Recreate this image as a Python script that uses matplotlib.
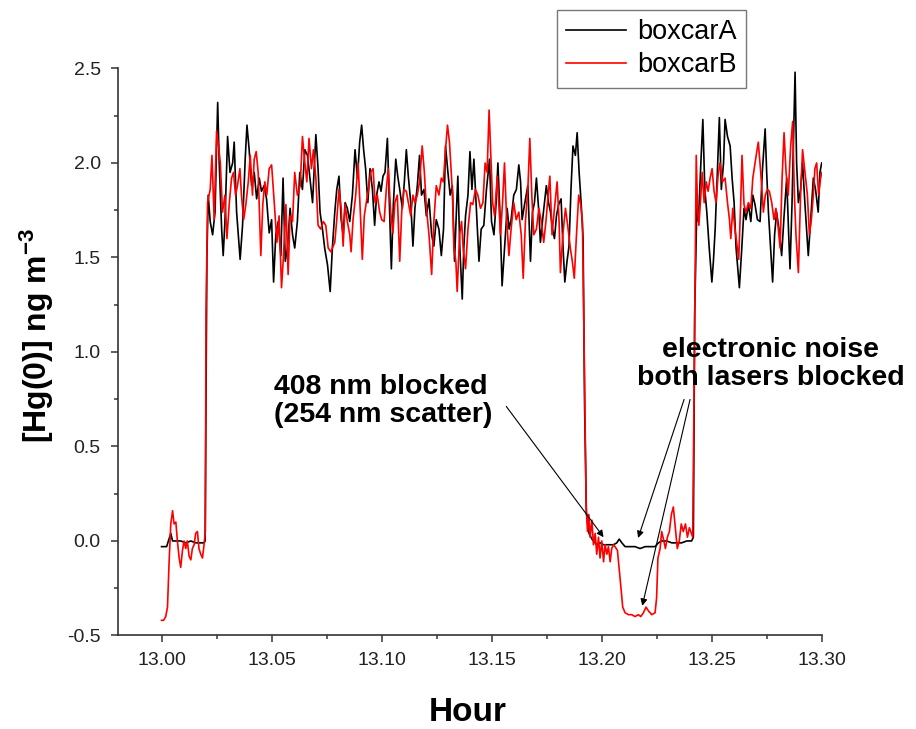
import matplotlib
matplotlib.use('Agg')
import matplotlib.pyplot as plt
from matplotlib.ticker import MultipleLocator, FormatStrFormatter

plt.rcParams['font.family'] = ['Liberation Sans', 'DejaVu Sans']

# boxcarA (black) - hour / [Hg(0)]
hour_a = [13.0000, 13.0023, 13.0034, 13.0042, 13.0050, 13.0065, 13.0087, 13.0110, 13.0133, 13.0155,
          13.0178, 13.0193, 13.0198, 13.0206,
          13.0212, 13.0221, 13.0232, 13.0243, 13.0255, 13.0262, 13.0273, 13.0280, 13.0288, 13.0300,
          13.0311, 13.0323, 13.0330, 13.0341, 13.0350, 13.0357, 13.0368, 13.0380, 13.0388, 13.0398,
          13.0409, 13.0421, 13.0432, 13.0444, 13.0454, 13.0466, 13.0477, 13.0489, 13.0500, 13.0509,
          13.0519, 13.0530, 13.0542, 13.0552, 13.0562, 13.0572, 13.0584, 13.0595, 13.0605, 13.0617,
          13.0628, 13.0640, 13.0651, 13.0663, 13.0673, 13.0686, 13.0701, 13.0711, 13.0720, 13.0731,
          13.0741, 13.0754, 13.0766,
          13.0776, 13.0787, 13.0796, 13.0806, 13.0816, 13.0825, 13.0834, 13.0844, 13.0855, 13.0867,
          13.0879, 13.0890, 13.0900, 13.0909, 13.0918, 13.0927, 13.0937, 13.0947, 13.0958, 13.0968,
          13.0977, 13.0988, 13.0997, 13.1006, 13.1015, 13.1026, 13.1033, 13.1044, 13.1053, 13.1064,
          13.1073, 13.1082, 13.1094, 13.1103, 13.1112, 13.1121, 13.1132, 13.1142, 13.1151, 13.1162,
          13.1172, 13.1181, 13.1192, 13.1203, 13.1215, 13.1227, 13.1237, 13.1248, 13.1260, 13.1271,
          13.1281, 13.1290, 13.1301, 13.1311, 13.1321,
          13.1331, 13.1340, 13.1346, 13.1355, 13.1366, 13.1373, 13.1381, 13.1392, 13.1401, 13.1410,
          13.1419, 13.1429, 13.1442, 13.1452, 13.1464, 13.1476, 13.1490, 13.1499, 13.1510, 13.1520,
          13.1528, 13.1537, 13.1547, 13.1558, 13.1570, 13.1579, 13.1588, 13.1600, 13.1612, 13.1623,
          13.1631, 13.1638, 13.1649, 13.1664, 13.1676, 13.1685, 13.1694, 13.1703, 13.1714, 13.1721,
          13.1733, 13.1748, 13.1758, 13.1767, 13.1776, 13.1785, 13.1794, 13.1804, 13.1815, 13.1824,
          13.1832, 13.1842, 13.1851, 13.1860, 13.1869, 13.1880, 13.1888, 13.1897, 13.1906,
          13.1915, 13.1922, 13.1930, 13.1942, 13.1955,
          13.1962, 13.1977, 13.1992, 13.2008, 13.2023, 13.2038, 13.2053, 13.2068, 13.2079, 13.2091,
          13.2106, 13.2129, 13.2151, 13.2174, 13.2197, 13.2219, 13.2242, 13.2257, 13.2272, 13.2295,
          13.2318, 13.2340, 13.2363, 13.2386, 13.2408,
          13.2416, 13.2422,
          13.2432, 13.2439, 13.2450, 13.2459, 13.2468, 13.2477, 13.2488, 13.2500, 13.2507, 13.2515,
          13.2525, 13.2534, 13.2543, 13.2553, 13.2560, 13.2571, 13.2583, 13.2592, 13.2601, 13.2610,
          13.2618, 13.2625, 13.2636, 13.2646, 13.2655, 13.2666, 13.2677, 13.2686, 13.2696, 13.2707,
          13.2719, 13.2729, 13.2742, 13.2749, 13.2757, 13.2767, 13.2776, 13.2785, 13.2794, 13.2805,
          13.2817, 13.2828, 13.2840, 13.2849, 13.2855, 13.2864, 13.2872, 13.2878, 13.2885, 13.2893,
          13.2903, 13.2912, 13.2923, 13.2938, 13.2949, 13.2961, 13.2971, 13.2983, 13.2991, 13.2999]
conc_a = [-0.03, -0.03, 0.01, 0.04, 0.00, 0.00, 0.00, -0.01, 0.00, -0.01,
          -0.01, -0.01, 0.00, 1.50,
          1.83, 1.69, 1.62, 1.74, 2.32, 2.00, 1.65, 1.51, 1.69, 2.14,
          1.95, 2.00, 2.11, 1.74, 1.60, 1.49, 1.67, 2.02, 2.20, 2.07,
          1.88, 1.95, 1.81, 1.92, 1.85, 1.88, 1.81, 1.63, 1.70, 1.37,
          1.62, 1.69, 1.51, 1.92, 1.48, 1.55, 1.76, 1.62, 1.55, 1.69,
          1.95, 1.86, 2.07, 2.04, 1.93, 1.79, 2.15, 1.97, 1.74, 1.65,
          1.55, 1.46, 1.32,
          1.55, 1.74, 1.86, 1.93, 1.70, 1.62, 1.79, 1.76, 1.69, 1.83,
          2.07, 1.92, 2.11, 2.20, 2.07, 1.97, 1.79, 1.97, 1.86, 1.67,
          1.83, 1.90, 1.85, 1.93, 1.95, 2.13, 1.86, 1.44, 1.78, 2.02,
          1.93, 1.86, 1.76, 1.90, 2.07, 1.93, 1.79, 1.56, 1.76, 1.88,
          2.04, 1.83, 1.86, 1.72, 1.81, 1.62, 1.56, 1.70, 1.65, 1.51,
          1.65, 2.09, 1.95, 1.83, 1.88,
          1.48, 1.76, 1.93, 1.55, 1.28, 1.55, 1.72, 1.83, 2.06, 1.86,
          2.02, 1.78, 1.48, 1.65, 1.67, 1.86, 2.02, 1.69, 1.62, 1.79,
          2.00, 1.74, 1.35, 1.55, 1.76, 1.65, 1.70, 1.83, 1.86, 1.99,
          1.90, 1.70, 1.78, 1.88, 1.48, 1.74, 1.79, 1.92, 1.74, 1.58,
          1.72, 1.88, 1.79, 1.74, 1.65, 1.60, 1.72, 1.78, 1.81, 1.55,
          1.37, 1.48, 1.56, 1.86, 2.09, 2.04, 2.16, 1.95, 1.79,
          1.60, 0.70, 0.15, 0.04, 0.01,
          0.00, -0.02, -0.01, -0.02, -0.02, -0.02, -0.02, -0.01, 0.01, -0.01,
          -0.03, -0.03, -0.03, -0.04, -0.03, -0.03, -0.03, -0.01, 0.00, 0.00,
          -0.01, -0.01, -0.01, 0.00, 0.00,
          0.02, 1.20,
          1.79, 1.69, 2.00, 2.23, 1.86, 1.74, 1.55, 1.37, 1.48, 1.65,
          1.95, 2.24, 1.86, 2.00, 2.23, 2.14, 2.09, 1.92, 1.79, 1.55,
          1.44, 1.34, 1.55, 1.76, 1.70, 1.78, 1.69, 1.83, 1.78, 1.70,
          1.69, 1.95, 2.18, 1.95, 1.74, 1.55, 1.37, 1.62, 1.74, 1.65,
          1.51, 1.72, 1.92, 1.62, 1.44, 1.78, 2.18, 2.48, 2.00, 1.79,
          1.86, 2.00, 1.78, 1.51, 1.70, 1.92, 1.86, 1.74, 1.95, 2.00]

# boxcarB (red)
hour_b = [13.0000, 13.0009, 13.0019, 13.0027, 13.0034, 13.0042, 13.0050, 13.0057, 13.0065, 13.0072,
          13.0080, 13.0087, 13.0095, 13.0102, 13.0110, 13.0117, 13.0125, 13.0133, 13.0140, 13.0148,
          13.0155, 13.0163, 13.0170, 13.0178, 13.0186, 13.0193, 13.0199,
          13.0202, 13.0209, 13.0221, 13.0229, 13.0239, 13.0250, 13.0259, 13.0267, 13.0277, 13.0288,
          13.0297, 13.0308, 13.0318, 13.0327, 13.0336, 13.0345, 13.0356, 13.0363, 13.0373, 13.0383,
          13.0394, 13.0403, 13.0413, 13.0421, 13.0430, 13.0439, 13.0451, 13.0460, 13.0469, 13.0478,
          13.0489, 13.0500, 13.0512, 13.0524, 13.0534, 13.0545, 13.0554, 13.0565, 13.0575, 13.0584,
          13.0595, 13.0605, 13.0617, 13.0630, 13.0640, 13.0651, 13.0660, 13.0670, 13.0681, 13.0690,
          13.0701, 13.0711, 13.0723, 13.0735, 13.0746, 13.0757, 13.0769,
          13.0787, 13.0796, 13.0806, 13.0816, 13.0825, 13.0834, 13.0844, 13.0855, 13.0861, 13.0870,
          13.0882, 13.0893, 13.0903, 13.0912, 13.0921, 13.0930, 13.0940, 13.0950, 13.0961, 13.0970,
          13.0980, 13.0991, 13.1000, 13.1011, 13.1021, 13.1030, 13.1041, 13.1051, 13.1060, 13.1071,
          13.1082, 13.1091, 13.1101, 13.1112, 13.1121, 13.1132, 13.1142, 13.1151, 13.1162, 13.1172,
          13.1184, 13.1194, 13.1203, 13.1215, 13.1227, 13.1237, 13.1248, 13.1260, 13.1271, 13.1280,
          13.1290, 13.1299, 13.1308,
          13.1322, 13.1328, 13.1337, 13.1343, 13.1354, 13.1363, 13.1370, 13.1381, 13.1392, 13.1404,
          13.1414, 13.1426, 13.1437, 13.1449, 13.1460, 13.1470, 13.1479, 13.1488, 13.1497, 13.1504,
          13.1513, 13.1525, 13.1532, 13.1540, 13.1549, 13.1558, 13.1567, 13.1578, 13.1588, 13.1600,
          13.1611, 13.1623, 13.1634, 13.1643, 13.1653, 13.1664, 13.1673, 13.1682, 13.1691, 13.1703,
          13.1714, 13.1724, 13.1736, 13.1747, 13.1756, 13.1764, 13.1774, 13.1785, 13.1797, 13.1806,
          13.1812, 13.1823, 13.1835, 13.1845, 13.1857, 13.1866, 13.1875, 13.1885, 13.1895, 13.1904,
          13.1912,
          13.1920,
          13.1929, 13.1935, 13.1941, 13.1947, 13.1955, 13.1962, 13.1970, 13.1977, 13.1985, 13.1992,
          13.2000, 13.2008, 13.2015, 13.2023, 13.2030, 13.2038, 13.2045, 13.2053, 13.2060, 13.2071,
          13.2080, 13.2088, 13.2095, 13.2106, 13.2121, 13.2136, 13.2151, 13.2166, 13.2177, 13.2189,
          13.2201, 13.2212, 13.2227, 13.2242, 13.2249, 13.2255, 13.2265, 13.2272, 13.2280, 13.2289,
          13.2298, 13.2307, 13.2316, 13.2325, 13.2334, 13.2343, 13.2352, 13.2361, 13.2370, 13.2380,
          13.2389, 13.2398, 13.2407, 13.2413,
          13.2421,
          13.2429, 13.2435, 13.2441, 13.2450, 13.2456, 13.2465, 13.2474, 13.2483, 13.2492, 13.2501,
          13.2510, 13.2519, 13.2528, 13.2537, 13.2548, 13.2560, 13.2571, 13.2580, 13.2586, 13.2595,
          13.2605, 13.2616, 13.2622, 13.2631, 13.2637, 13.2646, 13.2655, 13.2666, 13.2677, 13.2686,
          13.2696, 13.2704, 13.2711, 13.2722, 13.2734, 13.2743, 13.2752, 13.2761, 13.2772, 13.2782,
          13.2791, 13.2802, 13.2810, 13.2819, 13.2828, 13.2837, 13.2847, 13.2858, 13.2867, 13.2875,
          13.2882, 13.2893, 13.2903, 13.2912, 13.2923, 13.2934, 13.2943, 13.2952, 13.2961, 13.2968,
          13.2976, 13.2985, 13.2994, 13.3000]
conc_b = [-0.42, -0.42, -0.40, -0.35, -0.12, 0.09, 0.16, 0.09, 0.10, 0.00,
          -0.09, -0.14, -0.05, 0.00, -0.04, 0.00, -0.08, -0.10, -0.04, -0.02,
          0.04, 0.05, -0.04, -0.07, -0.09, -0.02, 0.05,
          1.21, 1.79, 1.86, 2.04, 1.70, 2.17, 2.09, 2.00, 1.74, 1.83,
          1.60, 1.79, 1.92, 1.95, 1.83, 1.88, 1.97, 1.83, 1.70, 1.78,
          1.90, 2.04, 1.83, 2.02, 2.06, 1.95, 1.51, 1.78, 1.90, 1.83,
          1.97, 1.99, 1.79, 1.58, 1.72, 1.34, 1.51, 1.78, 1.41, 1.72,
          1.69, 1.95, 1.83, 1.88, 2.14, 2.00, 1.90, 2.13, 1.97, 2.07,
          1.92, 1.67, 1.65, 1.69, 1.67, 1.55, 1.53,
          1.58, 1.70, 1.86, 1.76, 1.56, 1.78, 1.69, 1.62, 1.53, 1.70,
          1.83, 2.00, 1.74, 1.49, 1.72, 1.79, 1.86, 1.95, 1.97, 1.79,
          1.83, 1.74, 1.70, 1.69, 1.86, 1.97, 1.74, 1.63, 1.79, 1.83,
          1.48, 1.74, 1.86, 1.85, 1.79, 1.72, 1.83, 1.79, 1.83, 1.90,
          2.09, 1.95, 1.76, 1.62, 1.41, 1.69, 1.88, 1.83, 1.92, 1.90,
          2.07, 2.20, 2.11,
          1.83, 1.55, 1.48, 1.32, 1.62, 1.69, 1.55, 1.44, 1.65, 1.79,
          1.78, 1.86, 1.83, 1.76, 1.79, 2.00, 1.95, 2.28, 2.00, 1.79,
          1.72, 1.93, 1.79, 1.62, 1.79, 2.00, 1.72, 1.51, 1.65, 1.79,
          1.70, 1.74, 1.62, 1.39, 1.69, 1.86, 2.13, 1.83, 1.62, 1.65,
          1.76, 1.70, 1.58, 1.70, 1.83, 1.93, 1.62, 1.76, 1.90, 1.69,
          1.42, 1.62, 1.76, 1.67, 1.55, 1.48, 1.39, 1.62, 1.83, 1.78,
          1.69,
          1.00,
          0.18, 0.05, 0.14, 0.02, 0.11, -0.02, 0.04, -0.07, 0.02, -0.09,
          0.00, -0.11, -0.02, -0.07, -0.03, -0.11, -0.04, -0.02, -0.03, -0.05,
          -0.16, -0.26, -0.35, -0.38, -0.39, -0.39, -0.40, -0.39, -0.40, -0.38,
          -0.35, -0.37, -0.39, -0.38, -0.30, -0.09, -0.04, 0.05, 0.01, -0.04,
          0.02, 0.05, 0.14, 0.18, 0.07, -0.04, 0.00, 0.09, 0.05, 0.09,
          0.02, 0.07, 0.04, 0.02,
          1.00,
          2.04, 1.76, 1.67, 1.83, 1.95, 1.79, 1.90, 1.85, 1.92, 1.97,
          1.85, 1.79, 1.93, 2.00, 1.90, 1.92, 1.79, 1.70, 1.60, 1.76,
          1.65, 1.55, 1.49, 1.79, 2.04, 1.78, 1.74, 1.79, 1.76, 1.92,
          2.00, 2.06, 2.11, 1.95, 1.74, 1.83, 1.86, 1.85, 1.79, 1.70,
          1.76, 1.65, 1.55, 1.92, 2.16, 1.95, 1.83, 2.09, 2.22, 1.83,
          1.62, 1.42, 1.83, 2.07, 1.95, 1.83, 1.62, 1.70, 1.83, 1.97,
          2.00, 1.83, 1.92, 1.95]

fig = plt.figure(figsize=(9.16, 7.29), dpi=100)
ax = fig.add_axes([0.1283, 0.1283, 0.769, 0.7778])

ax.plot(hour_a, conc_a, color='black', lw=1.2, label='boxcarA')
ax.plot(hour_b, conc_b, color='#ff0000', lw=1.2, label='boxcarB')

ax.set_xlim(12.98, 13.30)
ax.set_ylim(-0.5, 2.5)

# origin-style axes: only left + bottom
ax.spines['top'].set_visible(False)
ax.spines['right'].set_visible(False)
for s in ['left', 'bottom']:
    ax.spines[s].set_linewidth(1.2)
    ax.spines[s].set_color('#333333')

ax.xaxis.set_major_locator(MultipleLocator(0.05))
ax.xaxis.set_minor_locator(MultipleLocator(0.025))
ax.yaxis.set_major_locator(MultipleLocator(0.5))
ax.yaxis.set_minor_locator(MultipleLocator(0.25))
ax.xaxis.set_major_formatter(FormatStrFormatter('%.2f'))
ax.yaxis.set_major_formatter(FormatStrFormatter('%.1f'))
ax.tick_params(which='major', direction='out', length=5, width=1.1, color='#333333',
               labelsize=14, labelcolor='#222222', pad=7)
ax.tick_params(which='minor', direction='out', length=3, width=1.1, color='#333333')

ax.set_xlabel('Hour', fontsize=24, fontweight='bold')
ax.set_ylabel(r'[Hg(0)] ng m$\mathregular{^{-3}}$', fontsize=23, fontweight='bold')
ax.xaxis.label.set_va('center')
ax.yaxis.label.set_va('center')
ax.xaxis.set_label_coords(0.4975, -0.135)
ax.yaxis.set_label_coords(-0.114, 0.53)

# annotations
ax.text(13.0511, 0.886, '408 nm blocked\n(254 nm scatter)', fontsize=20.5, fontweight='bold',
        ha='left', va='top', linespacing=1.1)
ax.text(13.2160, 1.081, 'electronic noise\nboth lasers blocked', fontsize=20.5, fontweight='bold',
        ha='left', va='top', linespacing=1.1, multialignment='center')

arrow = dict(arrowstyle='-|>', color='black', lw=0.8, mutation_scale=10, shrinkA=0, shrinkB=0)
ax.annotate('', xy=(13.2008, 0.02), xytext=(13.1566, 0.712), arrowprops=arrow)
ax.annotate('', xy=(13.2165, 0.016), xytext=(13.2374, 0.749), arrowprops=arrow)
ax.annotate('', xy=(13.2184, -0.343), xytext=(13.2401, 0.749), arrowprops=arrow)

leg = fig.legend(loc='upper left', bbox_to_anchor=(557 / 916, 1 - 10 / 729), fontsize=19.5,
                 frameon=True, fancybox=False, edgecolor='#555555', handlelength=2.2,
                 handletextpad=0.4, borderpad=0.35, labelspacing=0.25, borderaxespad=0)
leg.get_frame().set_linewidth(1.0)

fig.savefig('out.png', dpi=100)
